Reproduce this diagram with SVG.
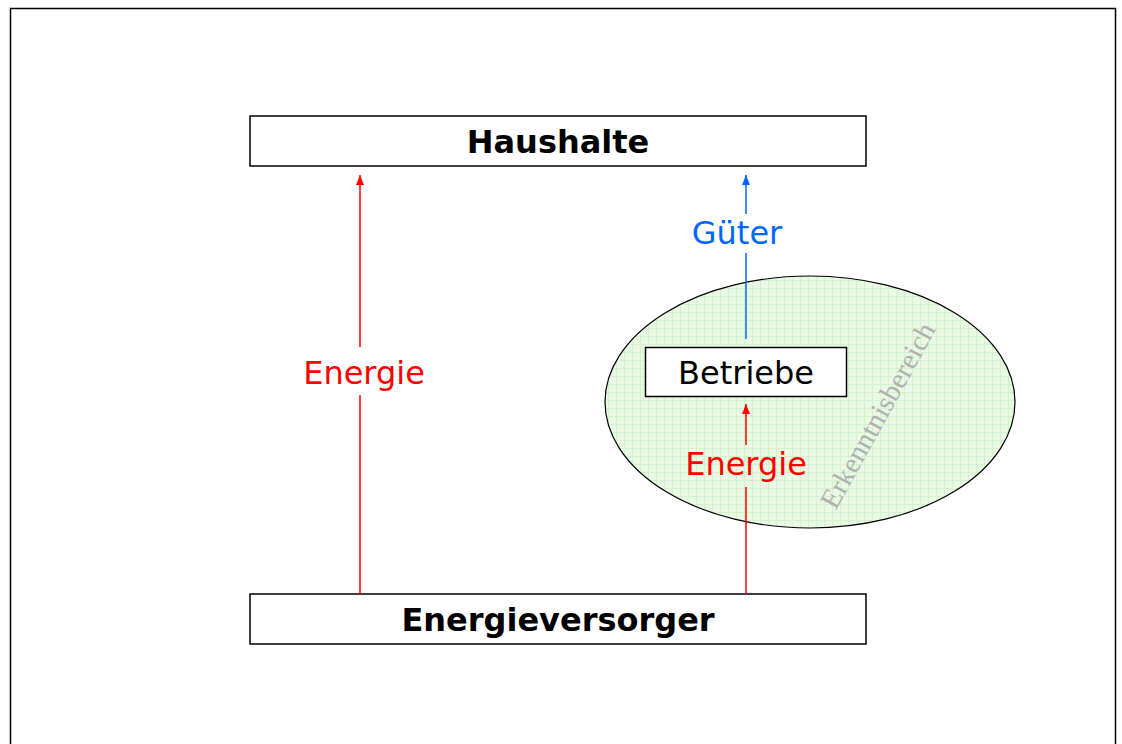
<svg xmlns="http://www.w3.org/2000/svg" width="1122" height="744" viewBox="0 0 1122 744">
  <style>
    .box { fill: #ffffff; stroke: #000000; stroke-width: 1.5; }
    .title { font-family: "DejaVu Sans", Verdana, sans-serif; font-size: 32px; font-weight: bold; fill: #000000; text-anchor: middle; }
    .label { font-family: "DejaVu Sans", Verdana, sans-serif; font-size: 32px; text-anchor: middle; }
    .red { stroke: #ff0000; stroke-width: 1.5; fill: none; }
    .blue { stroke: #0066ff; stroke-width: 1.5; fill: none; }
  </style>
  <defs>
    <pattern id="grid" width="8" height="8" patternUnits="userSpaceOnUse">
      <rect width="8" height="8" fill="#e9f9e4"/>
      <path d="M0 0.5 H8 M0.5 0 V8" stroke="#d3f3cc" stroke-width="1"/>
    </pattern>
    <marker id="headRed" markerWidth="10" markerHeight="8" refX="10" refY="4" orient="auto" markerUnits="userSpaceOnUse" viewBox="0 0 10 8">
      <path d="M0 0 L10 4 L0 8 Z" fill="#ff0000"/>
    </marker>
    <marker id="headBlue" markerWidth="10" markerHeight="8" refX="10" refY="4" orient="auto" markerUnits="userSpaceOnUse" viewBox="0 0 10 8">
      <path d="M0 0 L10 4 L0 8 Z" fill="#0066ff"/>
    </marker>
  </defs>

  <!-- page frame -->
  <path d="M10.5 750 V8.5 H1115.5 V750" fill="none" stroke="#000000" stroke-width="1.5"/>

  <!-- scope of study -->
  <g id="erkenntnisbereich">
    <ellipse cx="810" cy="402" rx="205" ry="126" fill="url(#grid)" stroke="#000000" stroke-width="1.2"/>
    <text x="0" y="0" transform="translate(886 420) rotate(-61)" font-family="'Liberation Serif', 'Times New Roman', serif" font-size="28.5" fill="#b0b0b0" text-anchor="middle">Erkenntnisbereich</text>
  </g>

  <g id="haushalte">
    <rect class="box" x="250" y="116" width="616" height="50"/>
    <text class="title" x="558" y="153">Haushalte</text>
  </g>

  <g id="energieversorger">
    <rect class="box" x="250" y="594" width="616" height="50"/>
    <text class="title" x="558" y="631">Energieversorger</text>
  </g>

  <g id="betriebe">
    <rect class="box" x="645.5" y="347.5" width="201" height="49"/>
    <text class="label" x="746" y="384" fill="#000000">Betriebe</text>
  </g>

  <g id="connectors">
    <!-- Energieversorger to Haushalte -->
    <line class="red" x1="360" y1="594" x2="360" y2="395"/>
    <line class="red" x1="360" y1="347" x2="360" y2="175" marker-end="url(#headRed)"/>
    <text class="label" x="364" y="384" fill="#ff0000">Energie</text>

    <!-- Energieversorger to Betriebe -->
    <line class="red" x1="746" y1="594" x2="746" y2="487"/>
    <line class="red" x1="746" y1="445" x2="746" y2="404" marker-end="url(#headRed)"/>
    <text class="label" x="746" y="475" fill="#ff0000">Energie</text>

    <!-- Betriebe to Haushalte -->
    <line class="blue" x1="746" y1="339" x2="746" y2="253"/>
    <line class="blue" x1="746" y1="214" x2="746" y2="175" marker-end="url(#headBlue)"/>
    <text class="label" x="737" y="244" fill="#0066ff">Güter</text>
  </g>
</svg>
